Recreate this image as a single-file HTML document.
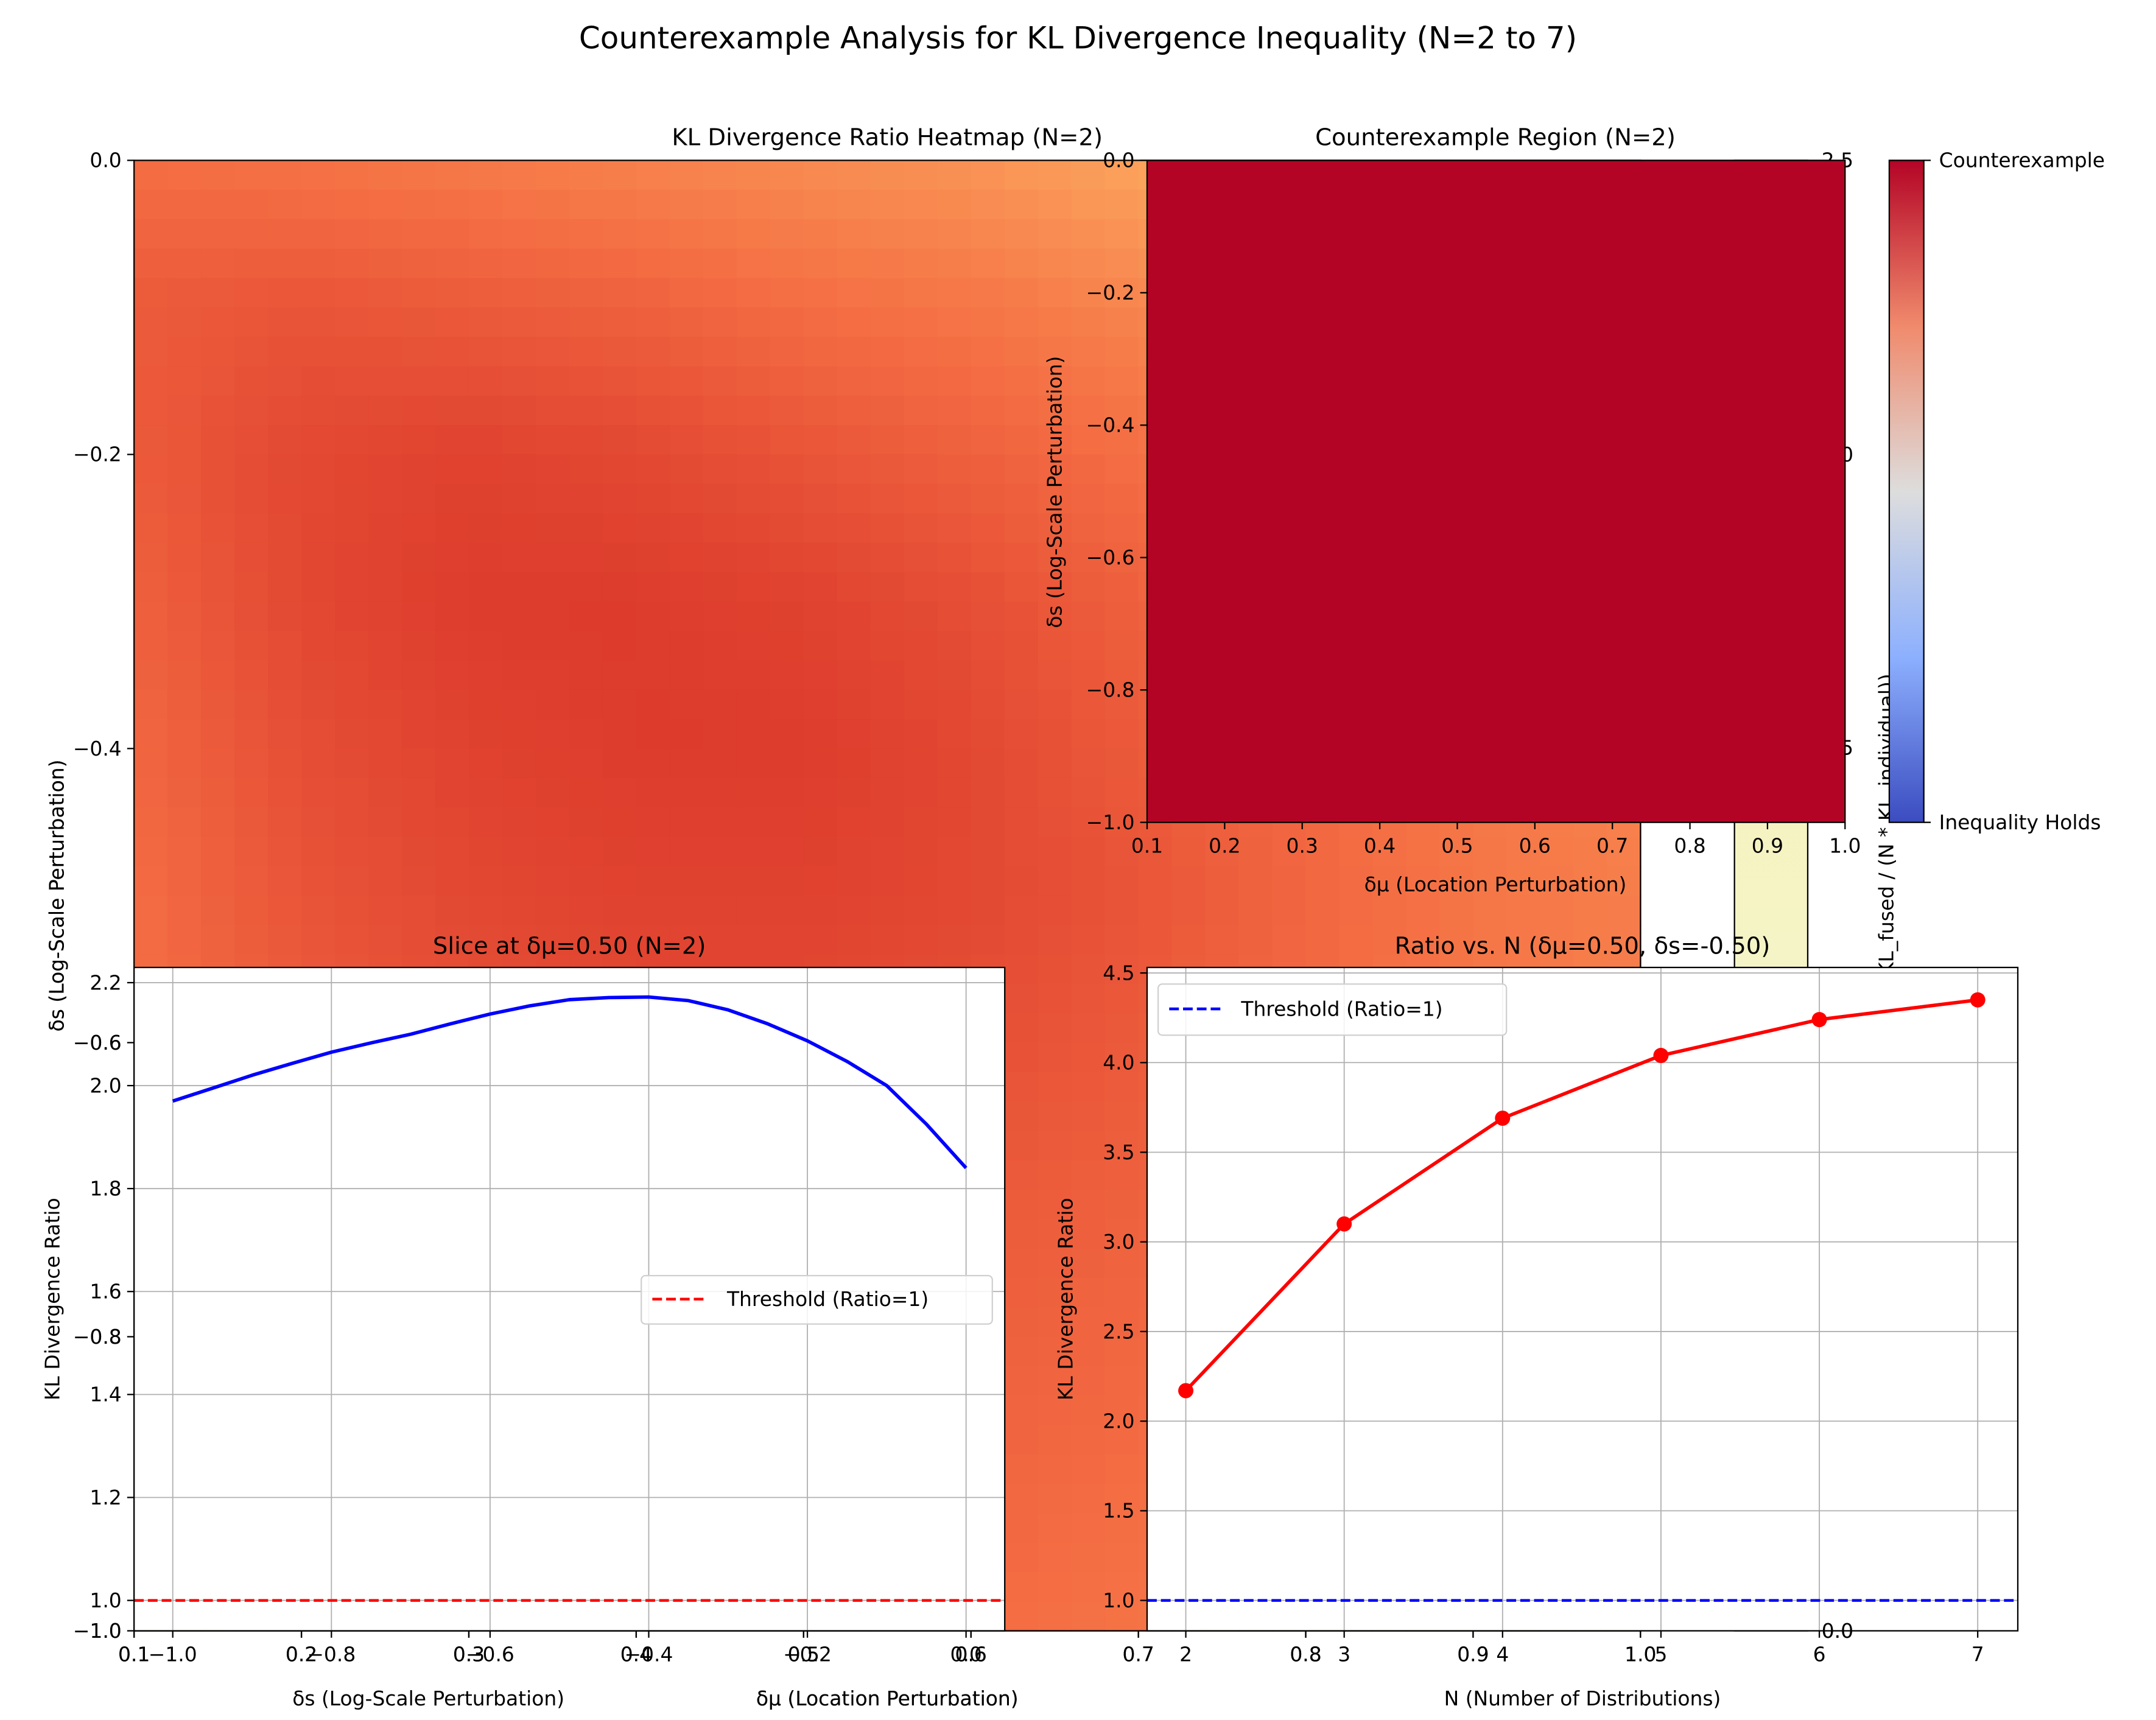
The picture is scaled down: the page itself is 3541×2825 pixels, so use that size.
<!DOCTYPE html>
<html><head><meta charset="utf-8"><title>KL Divergence Counterexample Analysis</title>
<style>
html,body{margin:0;padding:0;background:#fff;}
svg{display:block;font-family:"DejaVu Sans","Liberation Sans",sans-serif;}
</style></head>
<body>
<svg id="fig" width="3541" height="2825" viewBox="0 0 1560 1244.5" xmlns="http://www.w3.org/2000/svg">
<rect x="0" y="0" width="1560" height="1245" fill="#fff"/>
<g id="heat"></g>
<g id="heatAxes"></g>
<g id="ce"></g>
<g id="slice"></g>
<g id="ratio"></g>
<text x="780" y="35" font-size="22" text-anchor="middle">Counterexample Analysis for KL Divergence Inequality (N=2 to 7)</text>
</svg>
<script>
// ---- Heatmap data ----
const muVals = [0.1,0.2,0.3,0.4,0.5,0.6,0.7,0.8,0.9,1.0];
const sVals = [0.0,-0.1,-0.2,-0.3,-0.4,-0.5,-0.6,-0.7,-0.8,-0.9,-1.0];
const ratioGrid = [
 [1.90,1.87,1.84,1.80,1.76,1.72,1.65,1.57,1.50,1.46],
 [1.99,2.02,1.99,1.96,1.90,1.86,1.79,1.72,1.64,1.58],
 [1.99,2.08,2.11,2.08,2.02,1.96,1.89,1.82,1.75,1.68],
 [1.96,2.08,2.14,2.14,2.11,2.05,1.96,1.89,1.82,1.76],
 [1.93,2.05,2.11,2.14,2.14,2.08,1.99,1.92,1.85,1.80],
 [1.90,2.02,2.08,2.11,2.11,2.08,2.02,1.93,1.86,1.82],
 [1.90,1.99,2.05,2.08,2.08,2.05,1.99,1.92,1.86,1.82],
 [1.88,1.96,2.02,2.05,2.05,2.00,1.96,1.90,1.85,1.80],
 [1.86,1.94,1.99,2.02,2.02,1.97,1.93,1.88,1.83,1.79],
 [1.84,1.92,1.97,1.99,1.99,1.94,1.90,1.86,1.81,1.77],
 [1.82,1.90,1.95,1.97,1.96,1.91,1.87,1.83,1.79,1.75]
];
const heatXTicks = [0.1,0.2,0.3,0.4,0.5,0.6,0.7,0.8,0.9,1.0];
const heatYTicks = [0.0,-0.2,-0.4,-0.6,-0.8,-1.0];
const heatCbTicks = ["2.5","2.0","1.5"];
// ---- Slice data ----
const sliceS = [-1.0,-0.95,-0.9,-0.85,-0.8,-0.75,-0.7,-0.65,-0.6,-0.55,-0.5,-0.45,-0.4,-0.35,-0.3,-0.25,-0.2,-0.15,-0.1,-0.05,0.0];
const sliceRatio = [1.97,1.995,2.02,2.043,2.065,2.083,2.10,2.12,2.139,2.155,2.167,2.171,2.172,2.165,2.147,2.12,2.087,2.047,2.0,1.925,1.84];
const sliceXTicks = [-1.0,-0.8,-0.6,-0.4,-0.2,0.0];
const sliceYTicks = [1.0,1.2,1.4,1.6,1.8,2.0,2.2];
// ---- Ratio vs N data ----
const nVals = [2,3,4,5,6,7];
const nRatio = [2.17,3.10,3.69,4.04,4.24,4.35];
const ratioYTicks = [1.0,1.5,2.0,2.5,3.0,3.5,4.0,4.5];

const NS="http://www.w3.org/2000/svg";
function mk(parent,tag,attrs,txt){const e=document.createElementNS(NS,tag);for(const k in attrs)e.setAttribute(k,attrs[k]);if(txt!==undefined)e.textContent=txt;parent.appendChild(e);return e;}
function fmt(v){return (v<0?"\u2212":"")+Math.abs(v).toFixed(1);}
function hex2rgb(h){return [parseInt(h.substr(1,2),16),parseInt(h.substr(3,2),16),parseInt(h.substr(5,2),16)];}
function cmap(t){const st=[[0,"#fdae61"],[0.5,"#f46d43"],[1,"#d73027"]];t=Math.max(0,Math.min(1,t));
 for(let i=0;i<st.length-1;i++){if(t<=st[i+1][0]){const a=hex2rgb(st[i][1]),b=hex2rgb(st[i+1][1]);const f=(t-st[i][0])/(st[i+1][0]-st[i][0]);return `rgb(${a.map((v,j)=>Math.round(v+(b[j]-v)*f)).join(",")})`;}}return st[2][1];}

// ---- Heatmap axes ----
const HX0=97,HX1=1187,HY0=116,HY1=1180;
const hx=v=>HX0+(v-0.1)/(0.9)*(HX1-HX0);
const hy=v=>HY0+(0-v)/1.0*(HY1-HY0);
const heat=document.getElementById('heat');
const SUB=5;
const nc=muVals.length, nr=sVals.length;
const cw=(HX1-HX0)/((nc-1)*SUB), ch=(HY1-HY0)/((nr-1)*SUB);
for(let r=0;r<nr-1;r++)for(let c=0;c<nc-1;c++)for(let i=0;i<SUB;i++)for(let j=0;j<SUB;j++){
 const fy=(i+0.5)/SUB, fx=(j+0.5)/SUB;
 const v=ratioGrid[r][c]*(1-fx)*(1-fy)+ratioGrid[r][c+1]*fx*(1-fy)+ratioGrid[r+1][c]*(1-fx)*fy+ratioGrid[r+1][c+1]*fx*fy;
 const x=hx(muVals[c])+( j)*cw, y=hy(sVals[r])+i*ch;
 const cell=mk(heat,'rect',{x:x.toFixed(2),y:y.toFixed(2),width:(cw+0.6).toFixed(2),height:(ch+0.6).toFixed(2),fill:cmap((v-1.6)/0.6)});
 
 
}
const ha=document.getElementById('heatAxes');
mk(ha,'rect',{x:HX0,y:HY0,width:HX1-HX0,height:HY1-HY0,fill:'none',stroke:'#000','stroke-width':1,});
heatXTicks.forEach(v=>{mk(ha,'line',{x1:hx(v),x2:hx(v),y1:HY1,y2:HY1+5,stroke:'#000'});
 const t=mk(ha,'text',{x:hx(v),y:HY1+22,'font-size':14.5,'text-anchor':'middle'},v.toFixed(1));});
heatYTicks.forEach(v=>{mk(ha,'line',{x1:HX0-5,x2:HX0,y1:hy(v),y2:hy(v),stroke:'#000'});
 const t=mk(ha,'text',{x:HX0-9,y:hy(v)+5,'font-size':14.5,'text-anchor':'end'},fmt(v));});
mk(ha,'text',{x:642,y:1234,'font-size':14.5,'text-anchor':'middle',},'\u03b4\u03bc (Location Perturbation)');
mk(ha,'text',{x:0,y:0,transform:'translate(46,648) rotate(-90)','font-size':14.5,'text-anchor':'middle',},'\u03b4s (Log-Scale Perturbation)');
mk(ha,'text',{x:642,y:105,'font-size':17,'text-anchor':'middle',},'KL Divergence Ratio Heatmap (N=2)');
const lg=mk(ha,'defs',{});const gr=mk(lg,'linearGradient',{id:'ylg',x1:0,y1:0,x2:0,y2:1});
mk(gr,'stop',{offset:'0','stop-color':'#fdf1a8'});mk(gr,'stop',{offset:'1','stop-color':'#eef6e0'});
mk(ha,'rect',{x:1255,y:HY0,width:53,height:HY1-HY0,fill:'url(#ylg)',stroke:'#000','stroke-width':1,});
[[116,"2.5"],[329,"2.0"],[541,"1.5"],[1180,"0.0"]].forEach((p,i)=>{const t=mk(ha,'text',{x:1318,y:p[0]+5,'font-size':14.5},heatCbTicks[i]||p[1]);});
mk(ha,'text',{x:0,y:0,transform:'translate(1370,675) rotate(-90)','font-size':14.5,'text-anchor':'middle',},'KL Divergence Ratio (KL_fused / (N * KL_individual))');

// ---- Counterexample panel ----
const ce=document.getElementById('ce');
const CX0=830,CX1=1335,CY0=116,CY1=595;
const cx=v=>CX0+(v-0.1)/0.9*(CX1-CX0), cy=v=>CY0+(0-v)*(CY1-CY0);
mk(ce,'rect',{x:CX0,y:CY0,width:CX1-CX0,height:CY1-CY0,fill:'#b40426',stroke:'#000','stroke-width':1,});
heatXTicks.forEach(v=>{mk(ce,'line',{x1:cx(v),x2:cx(v),y1:CY1,y2:CY1+5,stroke:'#000'});
 const t=mk(ce,'text',{x:cx(v),y:CY1+22,'font-size':14.5,'text-anchor':'middle'},v.toFixed(1));});
[0,-0.2,-0.4,-0.6,-0.8,-1.0].forEach(v=>{mk(ce,'line',{x1:CX0-5,x2:CX0,y1:cy(v),y2:cy(v),stroke:'#000'});
 const t=mk(ce,'text',{x:CX0-9,y:cy(v)+5,'font-size':14.5,'text-anchor':'end'},fmt(v));});
mk(ce,'text',{x:1082,y:645,'font-size':14.5,'text-anchor':'middle',},'\u03b4\u03bc (Location Perturbation)');
mk(ce,'text',{x:0,y:0,transform:'translate(768,356) rotate(-90)','font-size':14.5,'text-anchor':'middle',},'\u03b4s (Log-Scale Perturbation)');
mk(ce,'text',{x:1082,y:105,'font-size':17,'text-anchor':'middle',},'Counterexample Region (N=2)');
const d2=mk(ce,'defs',{});const g2=mk(d2,'linearGradient',{id:'cw',x1:0,y1:0,x2:0,y2:1});
[['0','#b40426'],['0.25','#f08a6c'],['0.5','#dddddd'],['0.75','#8db0fe'],['1','#3b4cc0']].forEach(s=>mk(g2,'stop',{offset:s[0],'stop-color':s[1]}));
mk(ce,'rect',{x:1367,y:CY0,width:25,height:CY1-CY0,fill:'url(#cw)',stroke:'#000','stroke-width':1,});
mk(ce,'line',{x1:1392,x2:1397,y1:CY0,y2:CY0,stroke:'#000'});mk(ce,'line',{x1:1392,x2:1397,y1:CY1,y2:CY1,stroke:'#000'});
mk(ce,'text',{x:1403,y:CY0+5,'font-size':14.5,},'Counterexample');
mk(ce,'text',{x:1403,y:CY1+5,'font-size':14.5,},'Inequality Holds');

// ---- Slice panel ----
const sl=document.getElementById('slice');
const SX0=97,SX1=727,SY0=700,SY1=1180;
const sx=v=>125+(v+1.0)/1.0*(699-125);
const sy=v=>1158-(v-1.0)/1.2*(1158-711);
mk(sl,'rect',{x:SX0,y:SY0,width:SX1-SX0,height:SY1-SY0,fill:'#fff',});
sliceXTicks.forEach(v=>{const l=mk(sl,'line',{x1:sx(v),x2:sx(v),y1:SY0,y2:SY1,stroke:'#b0b0b0','stroke-width':0.8});});
sliceYTicks.forEach(v=>{const l=mk(sl,'line',{x1:SX0,x2:SX1,y1:sy(v),y2:sy(v),stroke:'#b0b0b0','stroke-width':0.8});});
mk(sl,'line',{x1:SX0,x2:SX1,y1:sy(1.0),y2:sy(1.0),stroke:'#ff0000','stroke-width':2,'stroke-dasharray':'7,3',});
mk(sl,'polyline',{points:sliceS.map((s,i)=>sx(s).toFixed(1)+','+sy(sliceRatio[i]).toFixed(1)).join(' '),fill:'none',stroke:'#0000ff','stroke-width':2.5,'stroke-linejoin':'round',});
mk(sl,'rect',{x:SX0,y:SY0,width:SX1-SX0,height:SY1-SY0,fill:'none',stroke:'#000','stroke-width':1});
sliceXTicks.forEach(v=>{mk(sl,'line',{x1:sx(v),x2:sx(v),y1:SY1,y2:SY1+5,stroke:'#000'});
 const t=mk(sl,'text',{x:sx(v),y:SY1+22,'font-size':14.5,'text-anchor':'middle'},fmt(v));});
sliceYTicks.forEach(v=>{mk(sl,'line',{x1:SX0-5,x2:SX0,y1:sy(v),y2:sy(v),stroke:'#000'});
 const t=mk(sl,'text',{x:SX0-9,y:sy(v)+5,'font-size':14.5,'text-anchor':'end'},v.toFixed(1));});
[0.1,0.2,0.3,0.4,0.5,0.6].forEach(v=>{mk(sl,'line',{x1:hx(v),x2:hx(v),y1:HY1,y2:HY1+5,stroke:'#000'});mk(sl,'text',{x:hx(v),y:HY1+22,'font-size':14.5,'text-anchor':'middle'},v.toFixed(1));});
[-0.6,-0.8,-1.0].forEach(v=>{mk(sl,'text',{x:HX0-9,y:hy(v)+5,'font-size':14.5,'text-anchor':'end'},fmt(v));});
mk(sl,'text',{x:0,y:0,transform:'translate(46,648) rotate(-90)','font-size':14.5,'text-anchor':'middle'},'\u03b4s (Log-Scale Perturbation)');
mk(sl,'text',{x:310,y:1234,'font-size':14.5,'text-anchor':'middle',},'\u03b4s (Log-Scale Perturbation)');
mk(sl,'text',{x:642,y:1234,'font-size':14.5,'text-anchor':'middle'},'\u03b4\u03bc (Location Perturbation)');
mk(sl,'text',{x:0,y:0,transform:'translate(43,940) rotate(-90)','font-size':14.5,'text-anchor':'middle',},'KL Divergence Ratio');
mk(sl,'text',{x:412,y:690,'font-size':17,'text-anchor':'middle',},'Slice at \u03b4\u03bc=0.50 (N=2)');
mk(sl,'rect',{x:464,y:923,width:254,height:35,rx:3,fill:'#fff','fill-opacity':0.85,stroke:'#d0d0d0',});
mk(sl,'line',{x1:472,x2:512,y1:940,y2:940,stroke:'#ff0000','stroke-width':2,'stroke-dasharray':'7,3'});
mk(sl,'text',{x:526,y:945,'font-size':14.5,},'Threshold (Ratio=1)');

// ---- Ratio vs N panel ----
const rp=document.getElementById('ratio');
const RX0=830,RX1=1460,RY0=700,RY1=1180;
const rx=v=>858+(v-2)/5*(1431-858);
const ry=v=>1158-(v-1.0)/3.5*(1158-704);
mk(rp,'rect',{x:RX0,y:RY0,width:RX1-RX0,height:RY1-RY0,fill:'#fff',});
nVals.forEach(v=>{const l=mk(rp,'line',{x1:rx(v),x2:rx(v),y1:RY0,y2:RY1,stroke:'#b0b0b0','stroke-width':0.8});});
ratioYTicks.forEach(v=>{const l=mk(rp,'line',{x1:RX0,x2:RX1,y1:ry(v),y2:ry(v),stroke:'#b0b0b0','stroke-width':0.8});});
mk(rp,'line',{x1:RX0,x2:RX1,y1:ry(1.0),y2:ry(1.0),stroke:'#0000ff','stroke-width':2,'stroke-dasharray':'7,3',});
mk(rp,'polyline',{points:nVals.map((n,i)=>rx(n).toFixed(1)+','+ry(nRatio[i]).toFixed(1)).join(' '),fill:'none',stroke:'#ff0000','stroke-width':2.5,});
nVals.forEach((n,i)=>{const c=mk(rp,'circle',{cx:rx(n),cy:ry(nRatio[i]),r:5.5,fill:'#ff0000'});});
mk(rp,'rect',{x:RX0,y:RY0,width:RX1-RX0,height:RY1-RY0,fill:'none',stroke:'#000','stroke-width':1});
nVals.forEach(v=>{mk(rp,'line',{x1:rx(v),x2:rx(v),y1:RY1,y2:RY1+5,stroke:'#000'});
 const t=mk(rp,'text',{x:rx(v),y:RY1+22,'font-size':14.5,'text-anchor':'middle'},String(v));});
ratioYTicks.forEach(v=>{mk(rp,'line',{x1:RX0-5,x2:RX0,y1:ry(v),y2:ry(v),stroke:'#000'});
 const t=mk(rp,'text',{x:RX0-9,y:ry(v)+5,'font-size':14.5,'text-anchor':'end'},v.toFixed(1));});
[0.7,0.8,0.9,1.0].forEach(v=>{mk(rp,'line',{x1:hx(v),x2:hx(v),y1:HY1,y2:HY1+5,stroke:'#000'});mk(rp,'text',{x:hx(v),y:HY1+22,'font-size':14.5,'text-anchor':'middle'},v.toFixed(1));});
mk(rp,'text',{x:1318,y:HY1+5,'font-size':14.5},'0.0');
mk(rp,'text',{x:1145,y:1234,'font-size':14.5,'text-anchor':'middle',},'N (Number of Distributions)');
mk(rp,'text',{x:0,y:0,transform:'translate(776,940) rotate(-90)','font-size':14.5,'text-anchor':'middle',},'KL Divergence Ratio');
mk(rp,'text',{x:1145,y:690,'font-size':17,'text-anchor':'middle',},'Ratio vs. N (\u03b4\u03bc=0.50, \u03b4s=-0.50)');
mk(rp,'rect',{x:838,y:712,width:252,height:37,rx:3,fill:'#fff','fill-opacity':0.85,stroke:'#d0d0d0',});
mk(rp,'line',{x1:846,x2:886,y1:730,y2:730,stroke:'#0000ff','stroke-width':2,'stroke-dasharray':'7,3'});
mk(rp,'text',{x:898,y:735,'font-size':14.5,},'Threshold (Ratio=1)');
</script>
</body></html>
